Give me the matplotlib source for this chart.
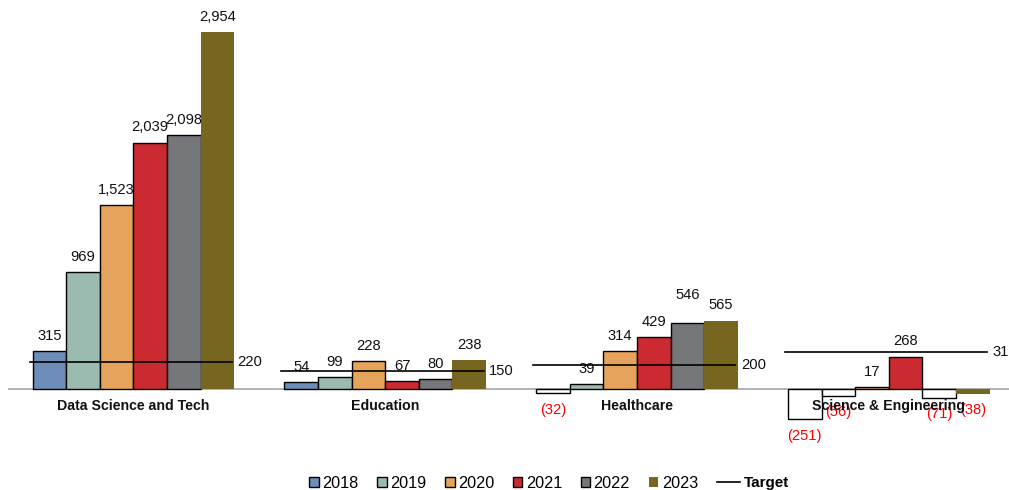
import matplotlib.pyplot as plt
import numpy as np

plt.rcParams['font.family'] = ['Liberation Sans', 'DejaVu Sans']

categories = ['Data Science and Tech', 'Education', 'Healthcare', 'Science & Engineering']
years = ['2018', '2019', '2020', '2021', '2022', '2023']
values = {
    '2018': [315, 54, -32, -251],
    '2019': [969, 99, 39, -56],
    '2020': [1523, 228, 314, 17],
    '2021': [2039, 67, 429, 268],
    '2022': [2098, 80, 546, -71],
    '2023': [2954, 238, 565, -38],
}
targets = [220, 150, 200, 310]

colors = ['#6e8db8', '#9bbbb0', '#e5a35c', '#cc2a31', '#76777b', '#77661f']

fig = plt.figure(figsize=(10.09, 4.9), dpi=100)
ax = fig.add_axes([8 / 1009, 50 / 490, 1001 / 1009, 435 / 490])

x = np.arange(len(categories))
w = 0.1335
handles = []
for i, yr in enumerate(years):
    vals = np.array(values[yr])
    pos = x + (i - 2.5) * w
    last = (i == len(years) - 1)
    face = [colors[i] if (v >= 0 or last) else 'white' for v in vals]
    edge = 'none' if last else 'black'
    ax.bar(pos, vals, w, color=face, edgecolor=edge, linewidth=1.0, zorder=2)
    h = ax.bar([0], [0], 0, color=colors[i], edgecolor=edge, linewidth=1.0)
    handles.append(h[0])
    for p, v in zip(pos, vals):
        if v >= 0:
            # 546 label sits a bit higher in the original
            extra = 9 if (yr == '2022' and v == 546) else 0
            ax.annotate('{:,}'.format(v), (p, v), xytext=(0, 11 + extra),
                        textcoords='offset points', ha='center', va='center',
                        fontsize=10.6, color='#111111')
        else:
            ax.annotate('({:,})'.format(-v), (p, v), xytext=(0, -12),
                        textcoords='offset points', ha='center', va='center',
                        fontsize=10.6, color='#ff0000')

# target lines
for xi, t in zip(x, targets):
    x0 = xi - 3 * w - 0.012
    x1 = xi + 3 * w - 0.01
    tl, = ax.plot([x0, x1], [t, t], color='black', linewidth=1.2, zorder=3)
    ax.annotate('{:,}'.format(t), (x1, t), xytext=(4, 0), textcoords='offset points',
                ha='left', va='center', fontsize=10.6, color='#111111',
                annotation_clip=False)

for xi, c in zip(x, categories):
    ax.text(xi, -140, c, ha='center', va='center', fontsize=10.2, fontweight='bold',
            color='#111111', zorder=4)

ax.axhline(0, color='#a6a6a6', linewidth=1.2, zorder=1)
ax.set_xlim(-0.498, 3.477)
ax.set_ylim(-422, 3177)
ax.axis('off')

leg1 = fig.legend(handles, years, loc='center left',
                  bbox_to_anchor=(309 / 1009, 1 - 483 / 490),
                  ncol=6, frameon=False, fontsize=11.7, handlelength=0.6,
                  handleheight=0.6, handletextpad=0.2, columnspacing=1.15,
                  borderpad=0, borderaxespad=0)
leg2 = fig.legend([tl], ['Target'], loc='center left',
                  bbox_to_anchor=(717 / 1009, 1 - 483 / 490),
                  frameon=False, fontsize=11, handlelength=1.5,
                  handletextpad=0.25, borderpad=0, borderaxespad=0,
                  prop={'weight': 'bold', 'size': 11})

fig.savefig('out.png', dpi=100)
